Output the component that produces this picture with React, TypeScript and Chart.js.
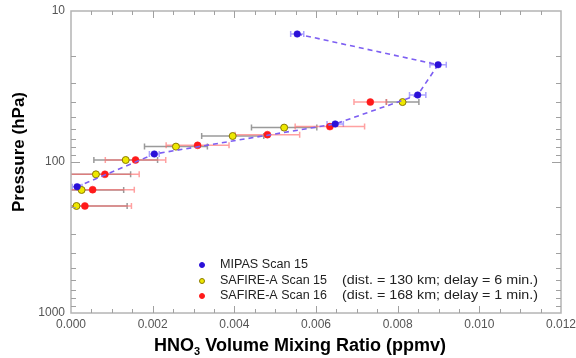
import React, { useEffect, useRef } from "react";
import { Chart, registerables } from "chart.js";

Chart.register(...registerables);

// MIPAS Scan 15
const mipasPressure = [14.2, 22.7, 36.0, 56.0, 88.5, 145.7];
const mipasVmr = [0.00554, 0.00899, 0.00849, 0.00647, 0.00204, 0.00015];
const mipasErr = [0.00016, 0.0002, 0.0002, 0.0002, 0.00012, 0.00012];

// SAFIRE-A Scan 15
const scan15Pressure = [40.1, 59.2, 67.3, 79.1, 97.0, 120.7, 153.2, 195.6];
const scan15Vmr = [0.00812, 0.00522, 0.00396, 0.00257, 0.00134, 0.00061, 0.00026, 0.000135];
const scan15Err = [0.0004, 0.0008, 0.00076, 0.00077, 0.00078, 0.00085, 0.00103, 0.00124];

// SAFIRE-A Scan 16
const scan16Pressure = [40.1, 58.3, 65.9, 77.6, 97.0, 120.7, 152.5, 195.6];
const scan16Vmr = [0.00733, 0.00634, 0.00481, 0.0031, 0.00158, 0.00083, 0.00053, 0.00034];
const scan16Err = [0.0004, 0.00085, 0.00079, 0.00077, 0.00074, 0.00084, 0.00102, 0.00114];

const xTickValues = [0, 0.002, 0.004, 0.006, 0.008, 0.01, 0.012];
const yTickLabels = [10, 100, 1000];

const legendLabels = ["MIPAS Scan 15", "SAFIRE-A Scan 15", "SAFIRE-A Scan 16"];
const legendNotes = ["", "(dist. = 130 km; delay = 6 min.)", "(dist. = 168 km; delay = 1 min.)"];

const toPoints = (xs: number[], ys: number[]) => xs.map((x, i) => ({ x, y: ys[i] }));

const errorColors = ["rgba(140,130,255,0.75)", "rgba(120,120,120,0.75)", "rgba(255,110,110,0.65)"];
const errors = [mipasErr, scan15Err, scan16Err];

const FONT = "'Liberation Sans', Arial, sans-serif";

const errorBarPlugin = {
  id: "errorBars",
  beforeDatasetsDraw(chart: any) {
    const { ctx, chartArea } = chart;
    const xs = chart.scales.x;
    const ys = chart.scales.y;
    ctx.save();
    ctx.beginPath();
    ctx.rect(chartArea.left, chartArea.top, chartArea.right - chartArea.left, chartArea.bottom - chartArea.top);
    ctx.clip();
    chart.data.datasets.forEach((ds: any, di: number) => {
      const errs = errors[di];
      ctx.strokeStyle = errorColors[di];
      ctx.lineWidth = 1.5;
      ds.data.forEach((p: any, i: number) => {
        const y = ys.getPixelForValue(p.y);
        const x0 = xs.getPixelForValue(p.x - errs[i]);
        const x1 = xs.getPixelForValue(p.x + errs[i]);
        ctx.beginPath();
        ctx.moveTo(x0, y);
        ctx.lineTo(x1, y);
        ctx.moveTo(x0, y - 3);
        ctx.lineTo(x0, y + 3);
        ctx.moveTo(x1, y - 3);
        ctx.lineTo(x1, y + 3);
        ctx.stroke();
      });
    });
    ctx.restore();
  },
};

const framePlugin = {
  id: "frame",
  afterDraw(chart: any) {
    const { ctx, chartArea } = chart;
    const { left, right, top, bottom } = chartArea;
    const xs = chart.scales.x;
    const ys = chart.scales.y;
    ctx.save();
    ctx.strokeStyle = "#b4b4b4";
    ctx.lineWidth = 1.5;
    ctx.strokeRect(left, top, right - left, bottom - top);
    ctx.strokeStyle = "#a0a0a0";
    ctx.lineWidth = 1;
    // x ticks
    for (let k = 1; k < 24; k++) {
      const v = k * 0.0005;
      const px = Math.round(xs.getPixelForValue(v)) + 0.5;
      const len = k % 4 === 0 ? 7 : 4;
      ctx.beginPath();
      ctx.moveTo(px, bottom);
      ctx.lineTo(px, bottom - len);
      ctx.moveTo(px, top);
      ctx.lineTo(px, top + len);
      ctx.stroke();
    }
    // y ticks
    for (const dec of [10, 100]) {
      for (let m = 1; m <= 10; m++) {
        const v = dec * m;
        if (v <= 10 || v >= 1000) continue;
        const py = Math.round(ys.getPixelForValue(v)) + 0.5;
        const len = m === 10 ? 9 : 5;
        ctx.beginPath();
        ctx.moveTo(left, py);
        ctx.lineTo(left + len, py);
        ctx.moveTo(right, py);
        ctx.lineTo(right - len, py);
        ctx.stroke();
      }
    }
    // axis titles
    ctx.fillStyle = "#000";
    ctx.textBaseline = "middle";
    const big = `bold 18px ${FONT}`;
    const small = `bold 11px ${FONT}`;
    const t1 = "HNO";
    const t2 = "3";
    const t3 = " Volume Mixing Ratio (ppmv)";
    ctx.font = big;
    const w1 = ctx.measureText(t1).width;
    const w3 = ctx.measureText(t3).width;
    ctx.font = small;
    const w2 = ctx.measureText(t2).width;
    const total = w1 + w2 + w3;
    let sx = 300 - total / 2;
    const ty = 346;
    ctx.textAlign = "left";
    ctx.font = big;
    ctx.fillText(t1, sx, ty);
    sx += w1;
    ctx.font = small;
    ctx.fillText(t2, sx, ty + 6);
    sx += w2;
    ctx.font = big;
    ctx.fillText(t3, sx, ty);

    ctx.save();
    ctx.translate(19, 152);
    ctx.rotate(-Math.PI / 2);
    ctx.textAlign = "center";
    ctx.font = `bold 17px ${FONT}`;
    ctx.fillText("Pressure (hPa)", 0, 0);
    ctx.restore();

    // legend
    const colors = [
      { fill: "#2a10d8", stroke: "#2a10d8" },
      { fill: "#eee800", stroke: "#8a7a00" },
      { fill: "#ff1a1a", stroke: "#ff1a1a" },
    ];
    const rows = [265, 281, 296];
    ctx.font = `12px ${FONT}`;
    ctx.textAlign = "left";
    ctx.textBaseline = "middle";
    rows.forEach((ry, i) => {
      ctx.beginPath();
      ctx.arc(202, ry, 2.5, 0, Math.PI * 2);
      ctx.fillStyle = colors[i].fill;
      ctx.fill();
      ctx.strokeStyle = colors[i].stroke;
      ctx.lineWidth = 1;
      ctx.stroke();
      ctx.fillStyle = "#222";
      const lw = ctx.measureText(legendLabels[i]).width;
      const lTarget = i === 0 ? 88 : 107;
      ctx.save();
      ctx.translate(220, ry);
      ctx.scale(lTarget / lw, 1);
      ctx.fillText(legendLabels[i], 0, 0);
      ctx.restore();
      if (legendNotes[i]) {
        const nw = ctx.measureText(legendNotes[i]).width;
        ctx.save();
        ctx.translate(342, ry);
        ctx.scale(196 / nw, 1);
        ctx.fillText(legendNotes[i], 0, 0);
        ctx.restore();
      }
    });
    ctx.restore();
  },
};

export default function App() {
  const canvasRef = useRef<HTMLCanvasElement | null>(null);

  useEffect(() => {
    if (!canvasRef.current) return;
    const chart = new Chart(canvasRef.current, {
      type: "scatter",
      data: {
        datasets: [
          {
            label: legendLabels[0],
            data: toPoints(mipasVmr, mipasPressure),
            showLine: true,
            borderColor: "#7d5ff2",
            borderWidth: 1.6,
            borderDash: [5, 4],
            pointBackgroundColor: "#2a10d8",
            pointBorderColor: "#2a10d8",
            pointRadius: 3.3,
            pointBorderWidth: 0.5,
            order: 1,
          },
          {
            label: legendLabels[1],
            data: toPoints(scan15Vmr, scan15Pressure),
            pointBackgroundColor: "#eee800",
            pointBorderColor: "#8a7a00",
            pointRadius: 3.5,
            pointBorderWidth: 1,
            order: 2,
          },
          {
            label: legendLabels[2],
            data: toPoints(scan16Vmr, scan16Pressure),
            pointBackgroundColor: "#ff1a1a",
            pointBorderColor: "#ff1a1a",
            pointRadius: 3.5,
            pointBorderWidth: 0.5,
            order: 3,
          },
        ],
      },
      options: {
        animation: false,
        responsive: false,
        devicePixelRatio: 1,
        layout: { padding: { left: 0, right: 15, top: 11, bottom: 0 } },
        plugins: { legend: { display: false }, tooltip: { enabled: false } },
        scales: {
          x: {
            type: "linear",
            min: 0,
            max: 0.012,
            grid: { display: false, drawTicks: false },
            border: { display: false },
            afterFit: (s: any) => {
              s.height = 45;
              s.paddingLeft = 0;
              s.paddingRight = 0;
            },
            afterBuildTicks: (s: any) => {
              s.ticks = xTickValues.map((v) => ({ value: v }));
            },
            ticks: {
              padding: 4,
              color: "#555",
              font: { family: FONT, size: 12 },
              maxRotation: 0,
              callback: (v: any) => Number(v).toFixed(3),
            },
          },
          y: {
            type: "logarithmic",
            reverse: true,
            min: 10,
            max: 1000,
            grid: { display: false, drawTicks: false },
            border: { display: false },
            afterFit: (s: any) => {
              s.width = 71;
              s.paddingTop = 0;
              s.paddingBottom = 0;
            },
            afterBuildTicks: (s: any) => {
              s.ticks = yTickLabels.map((v) => ({ value: v }));
            },
            ticks: {
              padding: 6,
              color: "#555",
              font: { family: FONT, size: 12 },
              callback: (v: any) => String(v),
            },
          },
        },
      },
      plugins: [errorBarPlugin, framePlugin],
    });
    return () => chart.destroy();
  }, []);

  return (
    <div style={{ position: "absolute", left: 0, top: 0, width: 576, height: 358, background: "#fff" }}>
      <canvas ref={canvasRef} width={576} height={358} />
    </div>
  );
}
